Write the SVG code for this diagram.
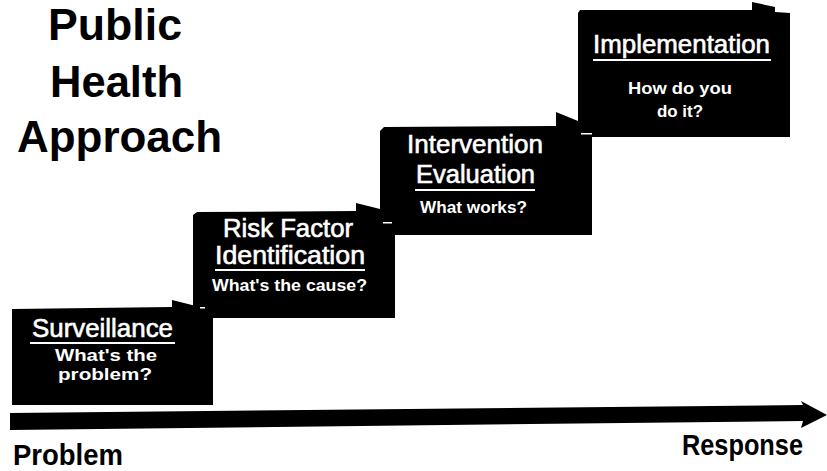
<svg xmlns="http://www.w3.org/2000/svg" width="827" height="471" viewBox="0 0 827 471">
<style>
  .box { fill: #000; }
  .head { font-family: "Liberation Sans", Arial, sans-serif; font-size: 25px; fill: #fff; stroke: #fff; stroke-width: 0.6; }
  .sub { font-family: "Liberation Sans", Arial, sans-serif; font-weight: bold; font-size: 17px; fill: #fff; }
  .ul { fill: #fff; }
  .title { font-family: "Liberation Sans", Arial, sans-serif; font-weight: bold; font-size: 45px; fill: #000; }
  .axis { font-family: "Liberation Sans", Arial, sans-serif; font-weight: bold; font-size: 29px; fill: #000; }
  .scratch { fill: #fff; }
</style>
<rect width="827" height="471" fill="#fff"/>

<g id="title">
  <text class="title" x="48" y="40" textLength="134" lengthAdjust="spacingAndGlyphs">Public</text>
  <text class="title" x="50" y="97" textLength="133" lengthAdjust="spacingAndGlyphs">Health</text>
  <text class="title" x="17" y="152" textLength="205" lengthAdjust="spacingAndGlyphs">Approach</text>
</g>

<g id="surveillance">
  <path class="box" d="M12,309 L172,307 L172,300 L196,306 L213,306 L213,405 L12,405 Z"/>
  <text class="head" x="32" y="337" textLength="141" lengthAdjust="spacingAndGlyphs">Surveillance</text>
  <rect class="ul" x="30" y="342" width="145" height="2"/>
  <text class="sub" x="55" y="361" textLength="102" lengthAdjust="spacingAndGlyphs">What's the</text>
  <text class="sub" x="58" y="380" textLength="94" lengthAdjust="spacingAndGlyphs">problem?</text>
</g>

<g id="risk-factor">
  <path class="box" d="M197,212 L356,211 L356,203 L380,209 L395,209 L395,318 L193,318 L193,215 Z"/>
  <text class="head" x="223" y="237" textLength="130" lengthAdjust="spacingAndGlyphs">Risk Factor</text>
  <text class="head" x="215" y="264" textLength="150" lengthAdjust="spacingAndGlyphs">Identification</text>
  <rect class="ul" x="215" y="269" width="150" height="2"/>
  <text class="sub" x="212" y="291" textLength="155" lengthAdjust="spacingAndGlyphs">What's the cause?</text>
  <rect class="scratch" x="200" y="307" width="5" height="1.5"/>
</g>

<g id="intervention">
  <path class="box" d="M384,127 L556,126 L556,112 L578,121 L592,121 L592,235 L380,235 L380,131 Z"/>
  <text class="head" x="407" y="153" textLength="136" lengthAdjust="spacingAndGlyphs">Intervention</text>
  <text class="head" x="416" y="183" textLength="119" lengthAdjust="spacingAndGlyphs">Evaluation</text>
  <rect class="ul" x="415" y="189" width="120" height="2"/>
  <text class="sub" x="420" y="213" textLength="107" lengthAdjust="spacingAndGlyphs">What works?</text>
  <rect class="scratch" x="383" y="222" width="9" height="1.5"/>
</g>

<g id="implementation">
  <path class="box" d="M580,10 L752,10 L752,2 L775,7 L775,12 L790,13 L790,137 L578,137 L578,13 Z"/>
  <text class="head" x="593" y="53" textLength="177" lengthAdjust="spacingAndGlyphs">Implementation</text>
  <rect class="ul" x="593" y="59" width="178" height="2"/>
  <text class="sub" x="628" y="94" textLength="104" lengthAdjust="spacingAndGlyphs">How do you</text>
  <text class="sub" x="657" y="117" textLength="46" lengthAdjust="spacingAndGlyphs">do it?</text>
  <rect class="scratch" x="581" y="133" width="11" height="1.5"/>
</g>

<g id="connectors">
  <path class="box" d="M10,413 L803,405 L801,401 L827,415 L801,428 L803,421 L10,430 Z"/>
</g>

<g id="axis-labels">
  <text class="axis" x="13" y="465" textLength="110" lengthAdjust="spacingAndGlyphs">Problem</text>
  <text class="axis" x="682" y="455" textLength="121" lengthAdjust="spacingAndGlyphs">Response</text>
</g>
</svg>
